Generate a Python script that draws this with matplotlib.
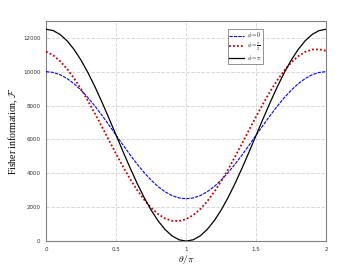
import matplotlib
matplotlib.use("Agg")
import matplotlib.pyplot as plt

theta = [round(0.05 * i, 2) for i in range(41)]

f_phi0 = [10000, 9954, 9817, 9591, 9284, 8902, 8454, 7953, 7409, 6837, 6250,
          5663, 5091, 4547, 4046, 3598, 3216, 2909, 2683, 2546, 2500,
          2546, 2683, 2909, 3216, 3598, 4046, 4547, 5091, 5663, 6250,
          6837, 7409, 7953, 8454, 8902, 9284, 9591, 9817, 9954, 10000]

f_phi_half = [11180, 10969, 10618, 10160, 9606, 8969, 8265, 7512, 6728, 5931, 5143,
              4382, 3667, 3015, 2443, 1965, 1592, 1334, 1197, 1185, 1297,
              1531, 1882, 2340, 2894, 3531, 4235, 4988, 5772, 6569, 7357,
              8118, 8833, 9485, 10057, 10535, 10908, 11166, 11303, 11315, 11230]

f_phipi = [12500, 12423, 12194, 11819, 11306, 10669, 9924, 9088, 8181, 7228, 6250,
           5272, 4319, 3412, 2576, 1831, 1194, 681, 306, 77, 0,
           77, 306, 681, 1194, 1831, 2576, 3412, 4319, 5272, 6250,
           7228, 8181, 9088, 9924, 10669, 11306, 11819, 12194, 12423, 12500]

labels = [r"$\phi = 0$", r"$\phi = \frac{\pi}{2}$", r"$\phi = \pi$"]
xticks = [0, 0.5, 1, 1.5, 2]
xticklabels = ["0", "0.5", "1", "1.5", "2"]
yticks = [0, 2000, 4000, 6000, 8000, 10000, 12000]

plt.rcParams["mathtext.fontset"] = "cm"

fig = plt.figure(figsize=(3.6, 2.7), dpi=100)
ax = fig.add_axes([0.128, 0.107, 0.778, 0.816])

ax.plot(theta, f_phi0, color="#0000ff", lw=0.8, linestyle=(0, (3, 1)), label=labels[0], zorder=3)
ax.plot(theta, f_phi_half, color="#cc0000", lw=1.3, linestyle=(0, (1, 1.2)), label=labels[1], zorder=3)
ax.plot(theta, f_phipi, color="black", lw=0.9, label=labels[2], zorder=3)

ax.set_xlim(0, 2)
ax.set_ylim(0, 13000)
ax.set_xticks(xticks)
ax.set_xticklabels(xticklabels)
ax.set_yticks(yticks)
ax.tick_params(length=0, labelsize=4, colors="#333333", pad=4)
ax.grid(True, linestyle=(0, (4, 2)), color="#d0d0d0", lw=0.6)
for s in ax.spines.values():
    s.set_color("#808080")
    s.set_linewidth(0.8)

ax.set_ylabel(r"Fisher information, $\mathcal{F}$", family="Liberation Serif", fontsize=7, labelpad=2)
ax.set_xlabel(r"$\theta/\pi$", fontsize=7, labelpad=1)

leg = ax.legend(loc="upper left", bbox_to_anchor=(0.64, 0.975), fontsize=4,
                handlelength=2.6, handletextpad=0.6, borderpad=0.25, labelspacing=0.0,
                fancybox=False, framealpha=1, edgecolor="#808080")
leg.get_frame().set_linewidth(0.6)

fig.savefig("out.png", dpi=100)
